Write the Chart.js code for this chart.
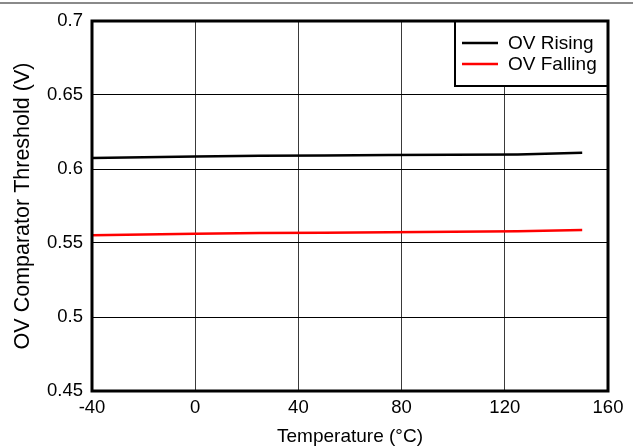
<!DOCTYPE html>
<html>
<head>
<meta charset="utf-8">
<script src="https://cdn.jsdelivr.net/npm/chart.js@4/dist/chart.umd.min.js"></script>
<style>
  html, body { margin: 0; padding: 0; background: #fff; }
  .wrap { position: relative; width: 633px; height: 446px; }
  .topline { position: absolute; left: 0; top: 2px; width: 633px; height: 2px; background: #8a8a8a; }
  canvas { position: absolute; left: 0; top: 0; }
</style>
</head>
<body>
<div class="wrap">
  <canvas id="chart" width="633" height="446"></canvas>
  <div class="topline"></div>
</div>
<script>
// temperature points (°C)
const temps = [-40, 0, 25, 50, 75, 100, 125, 150];
// threshold values (V)
const ovRising = [0.6075, 0.6085, 0.6090, 0.6092, 0.6094, 0.6096, 0.6098, 0.6109];
const ovFalling = [0.5553, 0.5562, 0.5567, 0.5570, 0.5573, 0.5576, 0.5580, 0.5587];
const seriesNames = ['OV Rising', 'OV Falling'];
const seriesColors = ['#000000', '#ff0000'];
const xTicks = [-40, 0, 40, 80, 120, 160];
const yTicks = ['0.45', '0.5', '0.55', '0.6', '0.65', '0.7'];

const FONT = 'Arial, "Liberation Sans", sans-serif';

const frameAndLegend = {
  id: 'frameAndLegend',
  afterDatasetsDraw(chart) {
    const { ctx, chartArea: a } = chart;
    ctx.save();
    // legend box
    const bx = 455, by = a.top, bw = a.right - 455, bh = 65;
    ctx.fillStyle = '#fff';
    ctx.fillRect(bx, by, bw, bh);
    ctx.strokeStyle = '#000';
    ctx.lineWidth = 2;
    ctx.strokeRect(bx, by, bw, bh);
    ctx.font = '19px ' + FONT;
    ctx.textBaseline = 'middle';
    chart.data.datasets.forEach((ds, i) => {
      const y = by + 22 + i * 21;
      ctx.strokeStyle = ds.borderColor;
      ctx.lineWidth = 2.5;
      ctx.beginPath();
      ctx.moveTo(462, y);
      ctx.lineTo(498, y);
      ctx.stroke();
      ctx.fillStyle = '#000';
      ctx.fillText(ds.label, 508, y + 1);
    });
    // plot frame
    ctx.strokeStyle = '#000';
    ctx.lineWidth = 3;
    ctx.strokeRect(a.left, a.top, a.right - a.left, a.bottom - a.top);
    ctx.restore();
  }
};

new Chart(document.getElementById('chart'), {
  type: 'line',
  data: {
    datasets: [
      { label: seriesNames[0], data: temps.map((t, i) => ({ x: t, y: ovRising[i] })), borderColor: seriesColors[0], borderWidth: 2.5, pointRadius: 0, tension: 0 },
      { label: seriesNames[1], data: temps.map((t, i) => ({ x: t, y: ovFalling[i] })), borderColor: seriesColors[1], borderWidth: 2.5, pointRadius: 0, tension: 0 }
    ]
  },
  options: {
    responsive: false,
    animation: false,
    layout: { padding: { left: 0, right: 25, top: 21, bottom: 0 } },
    plugins: { legend: { display: false }, tooltip: { enabled: false } },
    scales: {
      x: {
        type: 'linear',
        min: -40,
        max: 160,
        afterBuildTicks: (s) => { s.ticks = xTicks.map((v) => ({ value: v })); },
        afterFit: (s) => { s.height = 55; },
        ticks: { color: '#000', font: { family: FONT, size: 18.5, lineHeight: 1 }, padding: 8, maxRotation: 0, callback: (v) => String(v) },
        grid: { color: '#3a3a3a', lineWidth: 1, drawTicks: false },
        border: { display: false },
        title: { display: true, text: 'Temperature (°C)', color: '#000', font: { family: FONT, size: 19, lineHeight: 1 }, padding: { top: 0, bottom: 0 } }
      },
      y: {
        type: 'linear',
        min: 0.45,
        max: 0.7,
        afterBuildTicks: (s) => { s.ticks = yTicks.map((v) => ({ value: Number(v) })); },
        afterFit: (s) => { s.width = 92; },
        ticks: { color: '#000', font: { family: FONT, size: 18.5, lineHeight: 1 }, padding: 9, callback: (v) => yTicks.find((t) => Number(t) === v) },
        grid: { color: '#000', lineWidth: 1, drawTicks: false },
        border: { display: false },
        title: { display: true, text: 'OV Comparator Threshold (V)', color: '#000', font: { family: FONT, size: 21.5, lineHeight: 1 }, padding: { top: 12, bottom: 0 } }
      }
    }
  },
  plugins: [frameAndLegend]
});
</script>
</body>
</html>
